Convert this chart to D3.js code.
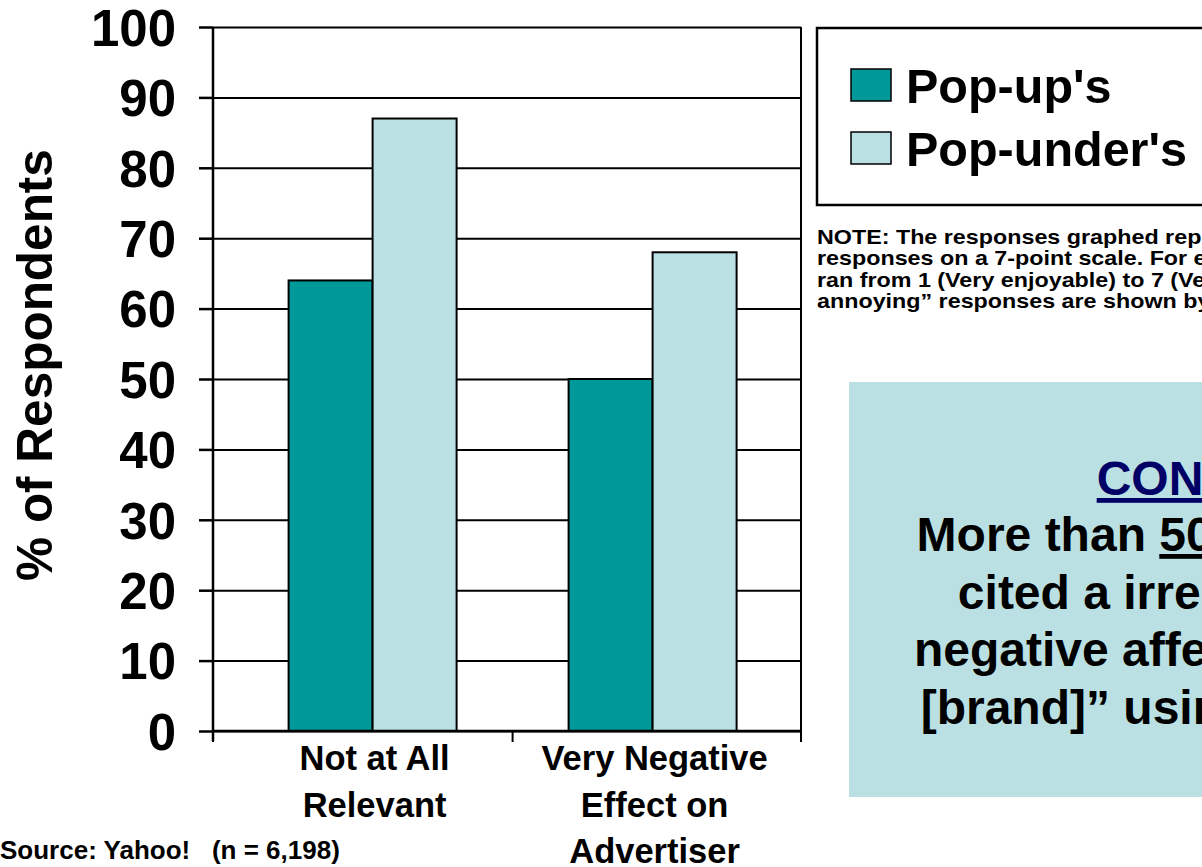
<!DOCTYPE html>
<html>
<head>
<meta charset="utf-8">
<script src="https://cdn.jsdelivr.net/npm/d3@7"></script>
<style>
  html, body { margin: 0; padding: 0; background: #ffffff; overflow: hidden; }
  svg { display: block; font-family: Arial, "Liberation Sans", Helvetica, sans-serif; font-weight: bold; }
</style>
</head>
<body>
<svg id="chart" width="1202" height="867"></svg>
<script>
// Categories and series
const categories = ["Not at All Relevant", "Very Negative Effect on Advertiser"];
const categoryLines = [["Not at All", "Relevant"], ["Very Negative", "Effect on", "Advertiser"]];
const seriesNames = ["Pop-up's", "Pop-under's"];
const popUps = [64, 50];
const popUnders = [87, 68];
const yTicks = [0, 10, 20, 30, 40, 50, 60, 70, 80, 90, 100];
const seriesColors = ["#009999", "#BBE0E3"];

const noteLines = [
  "NOTE: The responses graphed represent the top two",
  "responses on a 7-point scale. For example, the scale",
  "ran from 1 (Very enjoyable) to 7 (Very annoying). “Very",
  "annoying” responses are shown by combining 6 and 7."
];
const conclusionTitle = "CONCLUSION:";
const conclusionLines = [
  ["More than ", "50%", " of respondents"],
  ["cited a irrelevant and “very"],
  ["negative affect on the image of"],
  ["[brand]” using pop-under ads."]
];
const sourceText = "Source: Yahoo!   (n = 6,198)";

const svg = d3.select("#chart");

// Plot area
const plot = { left: 213, right: 801, top: 27, bottom: 731 };

const y = d3.scaleLinear().domain([0, 100]).range([plot.bottom, plot.top]);
const x0 = d3.scaleBand().domain(categories).range([plot.left, plot.right])
  .paddingInner(0.4).paddingOuter(0.25).align(0.54);
const x1 = d3.scaleBand().domain(seriesNames).range([0, x0.bandwidth()]);

const rows = categories.map((c, i) => ({ cat: c, values: [popUps[i], popUnders[i]] }));

// Gridlines
svg.append("g")
  .attr("transform", `translate(${plot.left},0)`)
  .call(d3.axisLeft(y).tickValues(yTicks).tickSize(-(plot.right - plot.left)).tickFormat(""))
  .call(g => g.select(".domain").remove())
  .call(g => g.selectAll("line").attr("stroke", "#000").attr("stroke-width", 2));

// Right border of plot
svg.append("line")
  .attr("x1", plot.right).attr("x2", plot.right)
  .attr("y1", plot.top).attr("y2", plot.bottom)
  .attr("stroke", "#000").attr("stroke-width", 2);

// Bars
const groups = svg.append("g").selectAll("g").data(rows).join("g")
  .attr("transform", d => `translate(${x0(d.cat)},0)`);
groups.selectAll("rect")
  .data(d => d.values.map((v, j) => ({ key: seriesNames[j], v, j })))
  .join("rect")
  .attr("x", d => x1(d.key))
  .attr("y", d => y(d.v))
  .attr("width", x1.bandwidth())
  .attr("height", d => y(0) - y(d.v))
  .attr("fill", d => seriesColors[d.j])
  .attr("stroke", "#000").attr("stroke-width", 2);

// Y axis
const yAxis = svg.append("g")
  .attr("transform", `translate(${plot.left},0)`)
  .call(d3.axisLeft(y).tickValues(yTicks).tickSize(14).tickPadding(23).tickSizeOuter(0));
yAxis.select(".domain").attr("stroke", "#000").attr("stroke-width", 2.5)
  .attr("d", `M0,${plot.top}V${plot.bottom + 10}`);
yAxis.selectAll(".tick line").attr("stroke", "#000").attr("stroke-width", 2.5);
yAxis.selectAll(".tick text")
  .attr("fill", "#000")
  .style("font-size", "51px").style("font-weight", "bold")
  .attr("dy", "0.36em");

// X axis baseline and category separators
const xAxis = svg.append("g").attr("transform", `translate(0,${plot.bottom})`);
xAxis.append("line")
  .attr("x1", plot.left).attr("x2", plot.right)
  .attr("stroke", "#000").attr("stroke-width", 2.5);
const sepX = [plot.left,
  (x0(categories[0]) + x0.bandwidth() + x0(categories[1])) / 2,
  plot.right];
xAxis.selectAll(".sep").data(sepX).join("line")
  .attr("x1", d => d).attr("x2", d => d)
  .attr("y1", 0).attr("y2", 11)
  .attr("stroke", "#000").attr("stroke-width", 2);

// Category labels
const catLabels = svg.append("g").selectAll("text").data(rows).join("text")
  .attr("text-anchor", "middle")
  .style("font-size", "34.5px");
catLabels.each(function(d, i) {
  const t = d3.select(this);
  const cx = x0(d.cat) + x0.bandwidth() / 2 + 2;
  categoryLines[i].forEach((line, k) => {
    t.append("tspan").attr("x", cx).attr("y", 770 + k * 46.5).text(line);
  });
});

// Y axis title
svg.append("text")
  .attr("transform", "translate(52,365) rotate(-90)")
  .attr("text-anchor", "middle")
  .style("font-size", "49.5px")
  .text("% of Respondents");

// Source
svg.append("text")
  .attr("x", 0).attr("y", 859)
  .style("font-size", "26px")
  .attr("xml:space", "preserve")
  .text(sourceText);

// Legend
const legend = svg.append("g");
legend.append("rect")
  .attr("x", 817).attr("y", 28).attr("width", 420).attr("height", 177)
  .attr("fill", "#fff").attr("stroke", "#000").attr("stroke-width", 2.5);
seriesNames.forEach((name, j) => {
  const yy = 69 + j * 63;
  legend.append("rect")
    .attr("x", 851).attr("y", yy).attr("width", 40).attr("height", 32)
    .attr("fill", seriesColors[j]).attr("stroke", "#000").attr("stroke-width", 1.5);
  legend.append("text")
    .attr("x", 906).attr("y", yy + 34)
    .style("font-size", "48.5px")
    .text(name);
});

// Note (set slightly wide, as in the slide's text box)
const note = svg.append("g").attr("transform", "translate(817,0) scale(1.165,1)");
noteLines.forEach((line, k) => {
  note.append("text")
    .attr("x", 0).attr("y", 244 + k * 21.5)
    .style("font-size", "20px")
    .text(line);
});

// Conclusion panel
const panel = svg.append("g");
panel.append("rect")
  .attr("x", 849).attr("y", 382).attr("width", 420).attr("height", 415)
  .attr("fill", "#BBE0E3");
const cx = 1266;
panel.append("text")
  .attr("x", cx).attr("y", 495)
  .attr("text-anchor", "middle")
  .attr("fill", "#000066")
  .attr("text-decoration", "underline")
  .style("font-size", "48px")
  .text(conclusionTitle);
conclusionLines.forEach((parts, k) => {
  const t = panel.append("text")
    .attr("x", cx).attr("y", 551 + k * 57.5)
    .attr("text-anchor", "middle")
    .attr("xml:space", "preserve")
    .style("font-size", "48px");
  parts.forEach((p, m) => {
    const s = t.append("tspan").text(p);
    if (parts.length > 1 && m === 1) s.attr("text-decoration", "underline");
  });
});
</script>
</body>
</html>
